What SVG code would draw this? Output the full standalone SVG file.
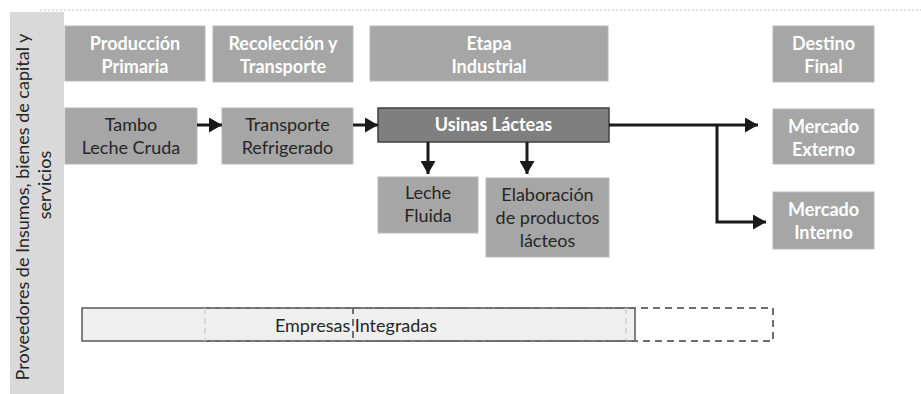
<svg xmlns="http://www.w3.org/2000/svg" width="921" height="394" viewBox="0 0 921 394">
<style>
.box{fill:#a6a6a6;stroke:#b8b8b8;stroke-width:1}
.hd{font-family:Lato,"Liberation Sans",sans-serif;font-size:18px;font-weight:bold;fill:#ffffff;text-anchor:middle}
.tx{font-family:Lato,"Liberation Sans",sans-serif;font-size:18px;fill:#262626;text-anchor:middle}
.side{font-family:Lato,"Liberation Sans",sans-serif;font-size:18px;fill:#262626;text-anchor:middle}
.conn{fill:none;stroke:#1a1a1a;stroke-width:3}
</style>
<defs>
<marker id="ah" markerUnits="userSpaceOnUse" markerWidth="13" markerHeight="15" refX="13" refY="7.5" orient="auto">
<path d="M0,0 L13,7.5 L0,15 Z" fill="#1a1a1a"/>
</marker>
</defs>
<rect width="921" height="394" fill="#ffffff"/>
<line x1="40" y1="10" x2="921" y2="10" stroke="#c4c4c4" stroke-width="1" stroke-dasharray="2,2"/>

<g id="proveedores">
<rect x="10" y="12" width="54" height="382" fill="#d9d9d9"/>
<text class="side" transform="translate(29,207) rotate(-90)">Proveedores de Insumos, bienes de capital y</text>
<text class="side" transform="translate(51,185) rotate(-90)">servicios</text>
</g>

<g id="h-produccion">
<rect class="box" x="65" y="26" width="140" height="55"/>
<text class="hd" x="135" y="50">Producción</text>
<text class="hd" x="135" y="73">Primaria</text>
</g>
<g id="h-recoleccion">
<rect class="box" x="213" y="26" width="140" height="56"/>
<text class="hd" x="283" y="50">Recolección y</text>
<text class="hd" x="283" y="73">Transporte</text>
</g>
<g id="h-etapa">
<rect class="box" x="370" y="26" width="238" height="55"/>
<text class="hd" x="489" y="50">Etapa</text>
<text class="hd" x="489" y="73">Industrial</text>
</g>
<g id="h-destino">
<rect class="box" x="773" y="26" width="101" height="56"/>
<text class="hd" x="823.5" y="50">Destino</text>
<text class="hd" x="823.5" y="73">Final</text>
</g>

<g id="tambo">
<rect class="box" x="65" y="108" width="132" height="56"/>
<text class="tx" x="131" y="131">Tambo</text>
<text class="tx" x="131" y="154">Leche Cruda</text>
</g>
<g id="transporte">
<rect class="box" x="222" y="108" width="131" height="56"/>
<text class="tx" x="287.5" y="131">Transporte</text>
<text class="tx" x="287.5" y="154">Refrigerado</text>
</g>
<g id="usinas">
<rect x="378" y="108" width="231" height="34" fill="#7f7f7f" stroke="#3f3f3f" stroke-width="1.5"/>
<text class="hd" x="493.5" y="131">Usinas Lácteas</text>
</g>
<g id="leche-fluida">
<rect class="box" x="378" y="177" width="100" height="56"/>
<text class="tx" x="428" y="199">Leche</text>
<text class="tx" x="428" y="222">Fluida</text>
</g>
<g id="elaboracion">
<rect class="box" x="486" y="178" width="123" height="79"/>
<text class="tx" x="547.5" y="201">Elaboración</text>
<text class="tx" x="547.5" y="224">de productos</text>
<text class="tx" x="547.5" y="247">lácteos</text>
</g>
<g id="mercado-externo">
<rect class="box" x="773" y="109" width="101" height="55"/>
<text class="hd" x="823.5" y="133">Mercado</text>
<text class="hd" x="823.5" y="156">Externo</text>
</g>
<g id="mercado-interno">
<rect class="box" x="773" y="192" width="101" height="57"/>
<text class="hd" x="823.5" y="216">Mercado</text>
<text class="hd" x="823.5" y="239">Interno</text>
</g>

<g id="connectors">
<path class="conn" d="M197,125 H222" marker-end="url(#ah)"/>
<path class="conn" d="M353,125 H378" marker-end="url(#ah)"/>
<path class="conn" d="M609,125 H758" marker-end="url(#ah)"/>
<path class="conn" d="M717,125 V222 H766" marker-end="url(#ah)"/>
<path class="conn" d="M428,142 V174" marker-end="url(#ah)"/>
<path class="conn" d="M527,142 V174" marker-end="url(#ah)"/>
</g>

<g id="empresas-integradas">
<rect x="82" y="308" width="553" height="33" fill="#efefef" stroke="#595959" stroke-width="1.5"/>
<rect x="205" y="309" width="421" height="31" fill="#efefef"/>
<line x1="205" y1="308" x2="626" y2="308" stroke="#6e6e6e" stroke-width="2" stroke-dasharray="6,4"/>
<line x1="205" y1="341" x2="626" y2="341" stroke="#6e6e6e" stroke-width="2" stroke-dasharray="6,4"/>
<line x1="205" y1="308" x2="205" y2="341" stroke="#d0d0d0" stroke-width="1.5" stroke-dasharray="6,4"/>
<line x1="626" y1="308" x2="626" y2="341" stroke="#d0d0d0" stroke-width="1.5" stroke-dasharray="6,4"/>
<rect x="353" y="308" width="420" height="33" fill="none" stroke="#6e6e6e" stroke-width="2" stroke-dasharray="7,5"/>
<text class="tx" x="356" y="332">Empresas Integradas</text>
</g>
</svg>
